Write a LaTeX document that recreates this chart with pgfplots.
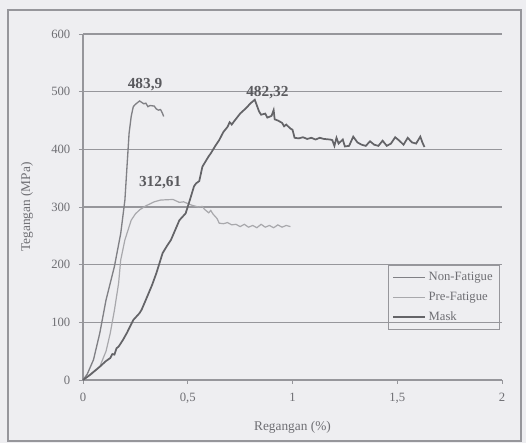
\documentclass[border=0pt]{standalone}
\usepackage{pgfplots}
\pgfplotsset{compat=1.18}
\usepackage{fontspec}
\setmainfont{Liberation Serif}
\definecolor{bg}{RGB}{238,238,241}
\definecolor{nonfat}{RGB}{128,128,133}
\definecolor{prefat}{RGB}{168,168,172}
\definecolor{mask}{RGB}{100,100,104}
\definecolor{gridc}{RGB}{150,150,155}
\definecolor{txt}{RGB}{110,110,115}
\definecolor{ann}{RGB}{90,90,94}
\begin{document}
\begin{tikzpicture}
\fill[bg] (0pt,0pt) rectangle (394.5pt,332.25pt);
\useasboundingbox (0pt,0pt) rectangle (394.5pt,332.25pt);
\draw[gridc, line width=0.9pt] (6pt,1.5pt) rectangle (390.75pt,324.75pt);
\begin{axis}[
  at={(62.25pt,47.25pt)}, anchor=south west,
  scale only axis, width=314.25pt, height=259.5pt,
  xmin=0, xmax=2, ymin=0, ymax=600,
  xtick={0,0.5,1,1.5,2}, ytick={0,100,200,300,400,500,600},
  axis x line*=bottom, axis y line*=left,
  axis line style={-, gridc, line width=0.8pt},
  ymajorgrids, grid style={gridc, line width=0.8pt},
  tick align=outside, major tick length=3pt,
  tick style={gridc, line width=0.6pt},
  /pgf/number format/use comma,
  /pgf/number format/assume math mode=true,
  ticklabel style={font=\fontsize{9.5}{10}\selectfont, text=txt},
  yticklabel style={xshift=-3pt},
  xticklabel style={yshift=-3pt},
  xlabel={Regangan (\%)}, ylabel={Tegangan (MPa)},
  label style={font=\fontsize{10}{11}\selectfont, text=txt},
  xlabel style={at={(axis description cs:0.5,-0.136)}, anchor=center},
  ylabel style={at={(axis description cs:-0.134,0.5)}, anchor=center},
  legend style={at={(0.995,0.332)}, anchor=north east, draw=gridc, line width=0.8pt,
    fill=none, font=\fontsize{9.5}{10}\selectfont, text=txt, row sep=3pt,
    inner sep=3pt},
  legend cell align=left,
  legend image code/.code={\draw[#1] (0pt,0pt) -- (24pt,0pt);},
  clip=false,
]
\addplot[nonfat, line width=1pt] coordinates {
(0,0) (0.02,10) (0.05,35) (0.08,81) (0.11,139) (0.15,197) (0.18,254) (0.20,312)
(0.21,370) (0.22,428) (0.23,457) (0.24,474) (0.25,478) (0.27,483.9) (0.29,479)
(0.30,480) (0.31,474) (0.32,476) (0.34,475) (0.35,470) (0.36,468) (0.37,469)
(0.38,462) (0.385,457)
};
\addlegendentry{Non-Fatigue}
\addplot[prefat, line width=0.9pt] coordinates {
(0,0) (0.04,10) (0.08,23) (0.11,50) (0.13,81) (0.15,121) (0.17,168) (0.18,208)
(0.20,243) (0.23,277) (0.25,288) (0.27,295) (0.30,302) (0.34,309) (0.37,312)
(0.40,312.61) (0.43,313) (0.46,308) (0.48,309) (0.52,303) (0.55,300) (0.57,301)
(0.58,296) (0.60,290) (0.61,294) (0.62,288) (0.64,280) (0.65,272) (0.67,271)
(0.69,273) (0.71,269) (0.73,270) (0.75,266) (0.77,270) (0.79,265) (0.81,268)
(0.83,264) (0.85,270) (0.87,265) (0.89,268) (0.91,264) (0.93,269) (0.95,265)
(0.97,268) (0.99,266)
};
\addlegendentry{Pre-Fatigue}
\addplot[mask, line width=1.3pt] coordinates {
(0,0) (0.03,8) (0.08,23) (0.11,33) (0.13,38) (0.14,45) (0.15,44) (0.16,55)
(0.17,58) (0.19,69) (0.21,82) (0.24,104) (0.26,112) (0.27,116) (0.28,122)
(0.30,139) (0.33,165) (0.35,185) (0.38,220) (0.40,232) (0.42,243) (0.44,260)
(0.46,277) (0.48,285) (0.49,289) (0.51,312) (0.52,324) (0.53,336) (0.54,341)
(0.555,345) (0.57,370) (0.60,388) (0.61,393) (0.63,405) (0.65,416) (0.67,430)
(0.69,439) (0.70,447) (0.71,443) (0.72,448) (0.75,462) (0.78,472) (0.80,480)
(0.82,486) (0.83,476) (0.84,466) (0.85,460) (0.87,462) (0.88,455) (0.90,458)
(0.91,468) (0.915,452) (0.93,450) (0.95,446) (0.96,440) (0.97,443) (0.99,436)
(1.00,434) (1.01,420) (1.03,419) (1.05,421) (1.07,418) (1.09,420) (1.11,417)
(1.13,420) (1.15,418) (1.18,417) (1.19,416) (1.20,406) (1.21,420) (1.22,410)
(1.24,417) (1.25,405) (1.27,406) (1.29,422) (1.31,412) (1.33,408) (1.35,406)
(1.37,414) (1.39,408) (1.41,406) (1.43,415) (1.45,406) (1.47,410) (1.49,421)
(1.51,415) (1.53,408) (1.55,420) (1.57,412) (1.59,410) (1.61,422) (1.62,412)
(1.63,404)
};
\addlegendentry{Mask}
\node[font=\fontsize{11.5}{13}\selectfont\bfseries, text=ann] at (axis cs:0.296,511.5) {483,9};
\node[font=\fontsize{11.5}{13}\selectfont\bfseries, text=ann] at (axis cs:0.880,497.6) {482,32};
\node[font=\fontsize{11.5}{13}\selectfont\bfseries, text=ann] at (axis cs:0.368,341.6) {312,61};
\end{axis}
\end{tikzpicture}
\end{document}
